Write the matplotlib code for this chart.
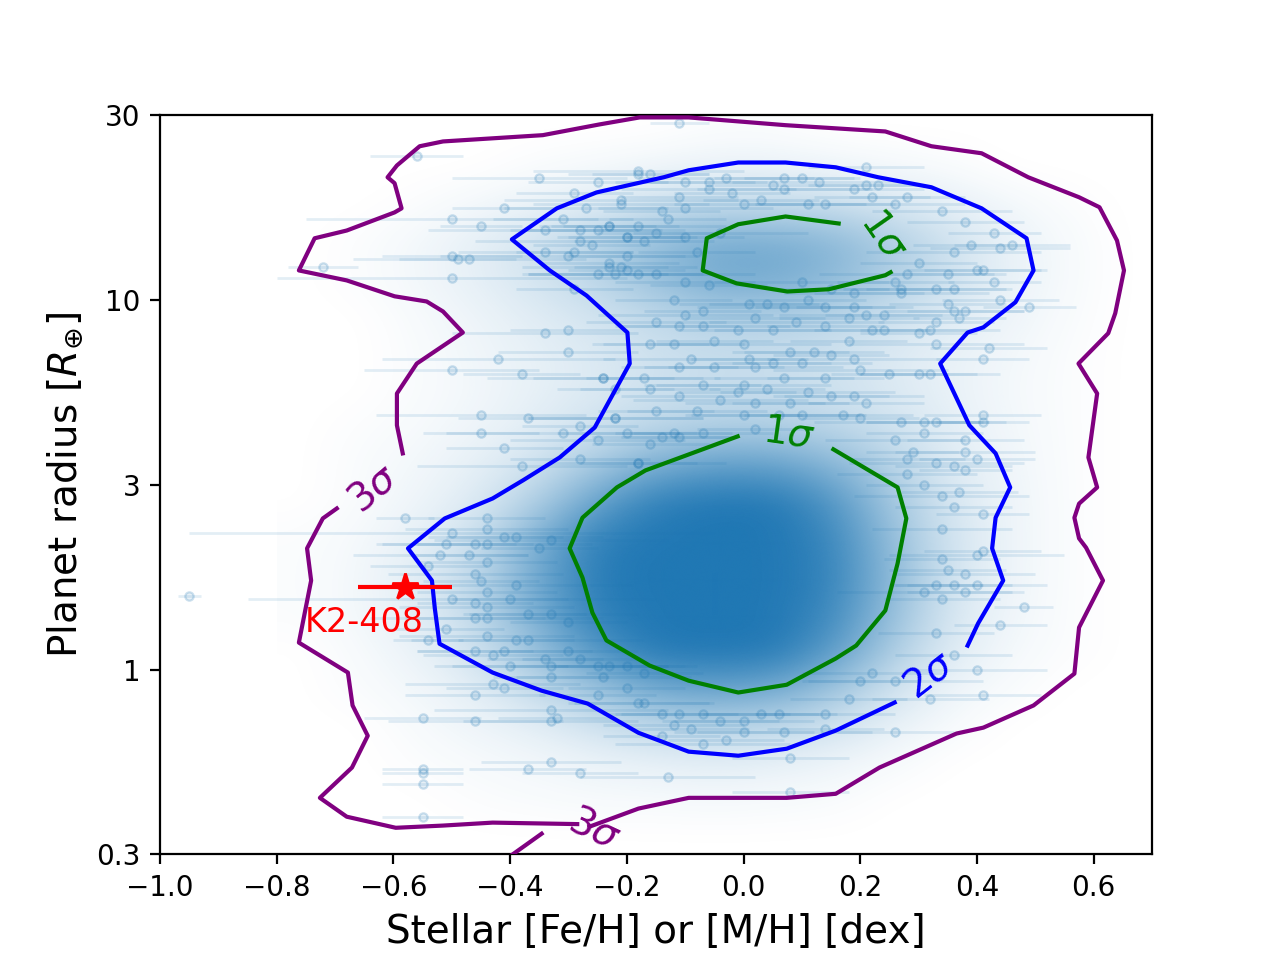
import numpy as np
import matplotlib
matplotlib.use("Agg")
import matplotlib.pyplot as plt
from matplotlib.colors import to_rgb

# ---------------- data (x = [Fe/H], y = log10 planet radius) ----------------
# sparse catalogue points (x, log10 R, xerr) by region of the plot
pts_upper_left = [
    (-0.56,1.39,0.08),(-0.35,1.33,0.15),(-0.25,1.32,0.12),(-0.18,1.35,0.18),(-0.29,1.29,0.10),
    (-0.21,1.27,0.20),(-0.41,1.25,0.09),(-0.27,1.25,0.14),(-0.50,1.22,0.25),(-0.45,1.20,0.07),
    (-0.31,1.22,0.12),(-0.34,1.19,0.20),(-0.28,1.19,0.10),(-0.25,1.19,0.15),(-0.23,1.20,0.08),
    (-0.20,1.17,0.12),(-0.28,1.16,0.18),(-0.26,1.15,0.10),(-0.34,1.13,0.15),(-0.29,1.13,0.10),
    (-0.30,1.12,0.22),(-0.20,1.12,0.10),(-0.50,1.12,0.12),(-0.49,1.11,0.10),(-0.47,1.11,0.20),
    (-0.72,1.09,0.06),(-0.50,1.06,0.30),(-0.25,1.07,0.12),(-0.23,1.09,0.15),(-0.21,1.09,0.08),
    (-0.18,1.07,0.20),(-0.29,1.03,0.10),(-0.34,0.91,0.16),(-0.30,0.92,0.10),(-0.30,0.86,0.12),
    (-0.42,0.84,0.20),(-0.50,0.81,0.15),(-0.38,0.80,0.10),(-0.24,0.79,0.20),(-0.22,0.76,0.10),
    (-0.45,0.69,0.18),(-0.37,0.68,0.12),(-0.22,0.68,0.15),(-0.28,0.66,0.10),(-0.45,0.64,0.10),
    (-0.31,0.64,0.20),(-0.20,0.64,0.12),(-0.25,0.62,0.15),(-0.41,0.60,0.10),(-0.28,0.57,0.12),
    (-0.38,0.55,0.18),(-0.18,0.56,0.10),
]
pts_lower_left = [
    (-0.58,0.41,0.05),(-0.44,0.41,0.10),(-0.44,0.38,0.14),(-0.50,0.37,0.45),(-0.51,0.34,0.12),
    (-0.46,0.34,0.10),(-0.44,0.34,0.18),(-0.52,0.31,0.15),(-0.47,0.31,0.10),(-0.44,0.29,0.12),
    (-0.41,0.36,0.10),(-0.39,0.36,0.15),(-0.35,0.33,0.10),(-0.33,0.35,0.20),(-0.54,0.28,0.10),
    (-0.46,0.26,0.15),(-0.45,0.24,0.10),(-0.39,0.23,0.20),(-0.44,0.21,0.12),(-0.46,0.18,0.10),
    (-0.44,0.17,0.15),(-0.50,0.19,0.35),(-0.40,0.19,0.10),(-0.46,0.14,0.12),(-0.44,0.14,0.20),
    (-0.37,0.15,0.10),(-0.33,0.15,0.15),(-0.30,0.13,0.10),(-0.51,0.11,0.10),(-0.54,0.08,0.06),
    (-0.44,0.09,0.15),(-0.39,0.08,0.10),(-0.37,0.08,0.20),(-0.46,0.05,0.10),(-0.43,0.04,0.12),
    (-0.41,0.05,0.15),(-0.34,0.03,0.10),(-0.30,0.05,0.12),(-0.40,0.01,0.10),(-0.33,0.01,0.20),
    (-0.28,0.03,0.10),(-0.25,0.01,0.15),(-0.23,0.01,0.10),(-0.20,0.01,0.12),(-0.43,-0.04,0.15),
    (-0.41,-0.05,0.10),(-0.46,-0.07,0.12),(-0.33,-0.02,0.10),(-0.24,-0.02,0.15),(-0.25,-0.07,0.10),
    (-0.33,-0.11,0.20),(-0.32,-0.13,0.10),(-0.33,-0.14,0.15),(-0.55,-0.13,0.10),(-0.46,-0.14,0.15),
    (-0.33,-0.25,0.12),(-0.37,-0.27,0.10),(-0.28,-0.28,0.10),(-0.55,-0.27,0.07),(-0.55,-0.28,0.07),
    (-0.55,-0.31,0.07),(-0.55,-0.40,0.07),(-0.95,0.20,0.02),(-0.20,-0.05,0.10),(-0.18,-0.09,0.12),
    (-0.17,-0.01,0.10),
]
pts_lower_right = [
    (-0.16,0.61,0.10),(-0.14,0.63,0.12),(-0.11,0.63,0.10),(-0.18,0.56,0.15),(0.31,0.64,0.10),
    (0.26,0.62,0.12),(0.28,0.57,0.10),(0.29,0.59,0.08),(0.38,0.62,0.10),(0.38,0.59,0.12),
    (0.40,0.57,0.10),(0.33,0.56,0.15),(0.36,0.55,0.10),(0.38,0.54,0.08),(0.28,0.53,0.12),
    (0.31,0.50,0.10),(0.37,0.48,0.10),(0.34,0.47,0.15),(0.36,0.44,0.10),(0.41,0.42,0.08),
    (0.34,0.38,0.12),(0.41,0.32,0.10),(0.40,0.31,0.15),(0.34,0.30,0.10),(0.38,0.26,0.12),
    (0.35,0.27,0.10),(0.33,0.23,0.08),(0.36,0.23,0.10),(0.40,0.23,0.12),(0.38,0.21,0.10),
    (0.31,0.21,0.15),(0.34,0.19,0.10),(0.48,0.17,0.05),(0.44,0.12,0.08),(0.33,0.10,0.10),
    (0.36,0.04,0.10),(0.40,0.00,0.12),(0.32,-0.08,0.10),(0.41,-0.07,0.10),(0.26,-0.17,0.10),
    (0.22,-0.01,0.12),(0.20,-0.03,0.10),(0.26,-0.03,0.15),(0.18,-0.08,0.10),(0.14,-0.12,0.12),
    (0.14,-0.16,0.10),(0.07,-0.17,0.15),(0.08,-0.24,0.10),(0.06,-0.12,0.10),(0.00,-0.17,0.12),
    (-0.03,-0.19,0.10),(-0.07,-0.20,0.15),(-0.09,-0.16,0.10),(-0.12,-0.15,0.12),(-0.14,-0.12,0.10),
    (-0.14,-0.18,0.10),(-0.13,-0.29,0.15),(0.08,-0.33,0.10),(-0.04,-0.14,0.10),(0.00,-0.14,0.12),
    (0.03,-0.12,0.10),(-0.17,-0.09,0.12),(-0.11,-0.12,0.10),(-0.07,-0.12,0.15),
]
pts_upper_right = [
    (-0.11,1.48,0.05),(-0.18,1.34,0.12),(-0.16,1.34,0.10),(-0.21,1.26,0.15),(-0.11,1.28,0.10),
    (-0.10,1.32,0.12),(-0.06,1.32,0.10),(-0.03,1.33,0.15),(0.05,1.31,0.10),(0.07,1.33,0.12),
    (0.10,1.33,0.10),(0.13,1.32,0.15),(0.21,1.36,0.10),(0.19,1.30,0.12),(0.21,1.31,0.10),
    (0.23,1.31,0.08),(0.28,1.28,0.10),(0.26,1.26,0.12),(0.22,1.28,0.10),(-0.06,1.30,0.15),
    (-0.02,1.29,0.10),(0.00,1.26,0.12),(0.03,1.27,0.10),(0.07,1.30,0.15),(0.11,1.26,0.10),
    (0.14,1.26,0.12),(-0.14,1.24,0.10),(-0.10,1.25,0.15),(-0.13,1.22,0.10),(-0.23,1.20,0.12),
    (-0.20,1.17,0.10),(-0.18,1.20,0.15),(-0.15,1.18,0.10),(-0.17,1.16,0.12),(-0.10,1.17,0.10),
    (-0.04,1.18,0.15),(-0.08,1.13,0.10),(-0.23,1.10,0.12),(-0.20,1.08,0.10),(-0.22,1.07,0.15),
    (-0.15,1.07,0.10),(-0.10,1.05,0.12),(-0.06,1.04,0.10),(0.10,1.05,0.15),(0.15,1.03,0.10),
    (0.19,1.02,0.12),(0.26,1.05,0.10),(0.28,1.07,0.15),(0.30,1.10,0.10),(0.34,1.24,0.12),
    (0.38,1.21,0.10),(0.43,1.18,0.08),(0.46,1.15,0.10),(0.44,1.14,0.12),(0.39,1.15,0.10),
    (0.36,1.13,0.15),(0.35,1.07,0.10),(0.40,1.08,0.12),(0.41,1.08,0.10),(0.43,1.05,0.08),
    (0.36,1.03,0.10),(0.33,1.03,0.12),(0.27,1.03,0.10),(0.27,1.02,0.15),(0.44,1.00,0.10),
    (0.49,0.98,0.08),(0.35,0.99,0.10),(0.36,0.97,0.12),(0.38,0.97,0.10),(0.37,0.95,0.08),
    (0.33,0.94,0.10),(0.32,0.92,0.12),(0.30,0.91,0.10),(0.33,0.88,0.15),(0.42,0.87,0.10),
    (0.41,0.84,0.08),(0.30,0.80,0.10),(0.32,0.80,0.12),(-0.12,1.00,0.10),(-0.10,0.96,0.15),
    (-0.07,0.97,0.10),(0.01,0.99,0.12),(0.04,0.99,0.10),(0.07,0.98,0.15),(0.11,1.00,0.10),
    (0.14,0.98,0.12),(0.19,0.98,0.10),(0.21,0.96,0.15),(0.24,0.96,0.10),(-0.15,0.94,0.12),
    (-0.11,0.93,0.10),(-0.07,0.93,0.15),(-0.01,0.92,0.10),(0.02,0.95,0.12),(0.05,0.92,0.10),
    (0.09,0.94,0.15),(0.14,0.93,0.10),(0.18,0.95,0.12),(0.22,0.92,0.10),(0.24,0.92,0.15),
    (-0.16,0.88,0.10),(-0.12,0.88,0.12),(-0.05,0.89,0.10),(0.00,0.88,0.15),(0.08,0.86,0.10),
    (0.12,0.86,0.12),(0.18,0.89,0.10),(-0.09,0.84,0.15),(-0.11,0.82,0.10),(-0.05,0.82,0.12),
    (0.01,0.84,0.10),(0.02,0.82,0.15),(0.05,0.83,0.10),(0.10,0.83,0.12),(0.15,0.85,0.10),
    (0.19,0.84,0.15),(-0.17,0.79,0.10),(-0.24,0.79,0.12),(-0.07,0.77,0.10),(0.00,0.77,0.15),
    (0.04,0.76,0.10),(0.07,0.79,0.12),(0.14,0.79,0.10),(0.20,0.81,0.15),(0.25,0.80,0.10),
    (-0.16,0.76,0.12),(-0.11,0.74,0.10),(-0.04,0.73,0.15),(-0.01,0.75,0.10),(0.02,0.72,0.12),
    (0.08,0.72,0.10),(0.11,0.75,0.15),(0.15,0.74,0.10),(0.19,0.74,0.12),(0.21,0.72,0.10),
    (-0.22,0.68,0.15),(-0.15,0.70,0.10),(-0.08,0.70,0.12),(0.00,0.69,0.10),(0.06,0.69,0.15),
    (0.10,0.69,0.10),(0.17,0.69,0.12),(0.20,0.68,0.10),(0.27,0.67,0.15),(0.31,0.67,0.10),
    (0.33,0.67,0.12),(0.41,0.69,0.10),(0.41,0.67,0.08),(-0.12,0.64,0.10),(-0.07,0.64,0.12),
    (0.02,0.65,0.10),
]

# background density of the catalogue (opacity of the crowded cloud)
dens_x_edges = (-0.8, 0.7)
dens_y_edges = (-0.5, 1.5)
density = [
    [0,0,0,0,0,0,0,.02,.02,0,0,0,0,0,0],
    [0,0,0,0,.03,.05,.08,.10,.10,.08,.05,.03,0,0,0],
    [0,0,.02,.06,.10,.15,.22,.26,.26,.24,.18,.12,.06,.02,0],
    [0,.02,.06,.12,.22,.34,.50,.62,.62,.55,.38,.22,.10,.04,0],
    [0,.02,.06,.12,.20,.30,.46,.62,.62,.52,.36,.22,.10,.04,0],
    [0,0,.04,.08,.14,.20,.28,.34,.34,.30,.22,.14,.08,.03,0],
    [0,0,.03,.07,.11,.16,.22,.25,.25,.22,.16,.10,.06,.02,0],
    [0,0,.03,.06,.11,.16,.22,.25,.25,.22,.16,.10,.05,.02,0],
    [0,.02,.04,.08,.14,.22,.30,.35,.35,.30,.22,.12,.06,.02,0],
    [0,.03,.06,.12,.22,.40,.60,.70,.70,.55,.32,.15,.07,.02,0],
    [0,.03,.08,.16,.36,.70,.95,1,1,.80,.42,.18,.08,.02,0],
    [.02,.05,.12,.25,.60,.95,1,1,1,.90,.48,.20,.08,.02,0],
    [.02,.06,.14,.30,.65,.98,1,1,1,.92,.52,.20,.08,.02,0],
    [.02,.06,.14,.30,.62,.95,1,1,1,.88,.48,.18,.07,.02,0],
    [0,.04,.10,.22,.48,.80,1,1,1,.75,.38,.15,.05,.02,0],
    [0,.03,.06,.14,.28,.45,.65,.70,.65,.45,.22,.08,.03,0,0],
    [0,0,.04,.08,.13,.22,.30,.32,.30,.22,.11,.04,0,0,0],
    [0,0,.02,.04,.06,.09,.11,.13,.11,.08,.04,0,0,0,0],
    [0,0,0,.02,.03,.04,.04,.05,.04,.03,0,0,0,0,0],
    [0,0,0,0,0,0,0,0,0,0,0,0,0,0,0],
]

# contour lines (x, log10 R)
c3_a_x = [-0.697,-0.721,-0.748,-0.741,-0.762,-0.678,-0.670,-0.644,-0.671,-0.726,-0.680,-0.596,-0.515,-0.430,-0.285]
c3_a_y = [0.436,0.409,0.328,0.241,0.073,-0.008,-0.097,-0.179,-0.265,-0.347,-0.398,-0.428,-0.422,-0.414,-0.418]
c3_b_x = [-0.401,-0.346]
c3_b_y = [-0.506,-0.444]
c3_c_x = [-0.264,-0.180,-0.094,0.074,0.158,0.233,0.365,0.411,0.497,0.567,0.575,0.616,0.587,0.575,0.567,
          0.575,0.606,0.591,0.606,0.574,0.625,0.637,0.652,0.640,0.610,0.575,0.488,0.408,0.322,0.243,
          0.072,-0.094,-0.178,-0.247,-0.344,-0.515,-0.555,-0.594,-0.610,-0.598,-0.586,-0.598,-0.680,
          -0.735,-0.762,-0.680,-0.598,-0.543,-0.515,-0.481,-0.560,-0.594,-0.594,-0.584]
c3_c_y = [-0.425,-0.376,-0.347,-0.347,-0.336,-0.265,-0.173,-0.157,-0.097,-0.011,0.114,0.241,0.330,0.355,0.411,
          0.449,0.493,0.574,0.747,0.828,0.910,0.964,1.080,1.161,1.251,1.278,1.332,1.397,1.416,1.456,
          1.473,1.494,1.494,1.475,1.446,1.429,1.416,1.364,1.332,1.316,1.248,1.237,1.188,
          1.167,1.080,1.053,1.010,0.996,0.969,0.912,0.828,0.747,0.661,0.585]
c2_x = [0.384,0.402,0.445,0.426,0.432,0.457,0.432,0.387,0.337,0.384,0.411,0.466,0.497,0.485,0.408,0.322,
        0.231,0.158,0.072,-0.009,-0.094,-0.137,-0.252,-0.320,-0.397,-0.332,-0.269,-0.199,-0.195,-0.255,
        -0.315,-0.378,-0.430,-0.512,-0.575,-0.534,-0.529,-0.521,-0.430,-0.346,-0.267,-0.180,-0.094,
        -0.009,0.074,0.158,0.259]
c2_y = [0.065,0.125,0.241,0.328,0.411,0.493,0.585,0.661,0.828,0.912,0.926,0.994,1.080,1.167,1.248,1.305,
        1.332,1.359,1.372,1.372,1.351,1.332,1.291,1.248,1.164,1.080,1.012,0.912,0.828,0.655,
        0.574,0.512,0.463,0.409,0.328,0.241,0.165,0.070,-0.008,-0.057,-0.092,-0.171,-0.222,
        -0.233,-0.214,-0.165,-0.089]
c1_top_x = [0.163,0.072,-0.009,-0.063,-0.070,-0.012,0.075,0.146,0.243,0.252]
c1_top_y = [1.207,1.226,1.205,1.167,1.080,1.045,1.023,1.029,1.067,1.075]
c1_low_x = [0.154,0.264,0.279,0.264,0.243,0.193,0.158,0.074,-0.009,-0.094,-0.161,-0.235,-0.259,-0.276,
            -0.298,-0.276,-0.217,-0.168,-0.010]
c1_low_y = [0.596,0.493,0.409,0.287,0.160,0.065,0.030,-0.041,-0.062,-0.030,0.011,0.079,0.154,0.249,
            0.328,0.411,0.493,0.539,0.631]

# contour labels: (x, log10 R, text, colour, rotation)
contour_labels = [
    (0.241, 1.178, r'$1\sigma$', 'green', -55),
    (0.077, 0.639, r'$1\sigma$', 'green', -8),
    (0.318, -0.016, r'$2\sigma$', 'blue', 38),
    (-0.635, 0.490, r'$3\sigma$', 'purple', 40),
    (-0.255, -0.430, r'$3\sigma$', 'purple', -25),
]

# K2-408
k2_feh, k2_feh_err, k2_logr = -0.58, 0.08, 0.223

ytick_pos = [-0.5, 0.0, 0.5, 1.0, 1.5]
ytick_lab = ['0.3', '1', '3', '10', '30']

# ---------------- plot ----------------
fig, ax = plt.subplots(figsize=(6.4, 4.8), dpi=200)
blue = '#1f77b4'

rgba = np.zeros((len(density), len(density[0]), 4))
rgba[..., :3] = to_rgb(blue)
rgba[..., 3] = np.array(density)
ax.imshow(rgba, extent=(dens_x_edges[0], dens_x_edges[1], dens_y_edges[0], dens_y_edges[1]),
          origin='upper', aspect='auto', interpolation='bicubic', zorder=0)

allpts = np.array(pts_upper_left + pts_lower_left + pts_lower_right + pts_upper_right)
ax.errorbar(allpts[:, 0], allpts[:, 1], xerr=allpts[:, 2], fmt='none',
            ecolor=blue, alpha=0.12, elinewidth=1.0, zorder=1)
ax.plot(allpts[:, 0], allpts[:, 1], 'o', ms=3.0, mew=0.8, ls='none',
        mfc=(*to_rgb(blue), 0.10), mec=(*to_rgb(blue), 0.22), zorder=1)

lw = 1.5
ax.plot(c3_a_x, c3_a_y, color='purple', lw=lw, zorder=3)
ax.plot(c3_b_x, c3_b_y, color='purple', lw=lw, zorder=3)
ax.plot(c3_c_x, c3_c_y, color='purple', lw=lw, zorder=3)
ax.plot(c2_x, c2_y, color='blue', lw=lw, zorder=3)
ax.plot(c1_top_x, c1_top_y, color='green', lw=lw, zorder=3)
ax.plot(c1_low_x, c1_low_y, color='green', lw=lw, zorder=3)
for x, y, t, c, r in contour_labels:
    ax.text(x, y, t, color=c, fontsize=14, rotation=r, ha='center', va='center',
            rotation_mode='anchor', zorder=4)

ax.errorbar([k2_feh], [k2_logr], xerr=[k2_feh_err], fmt='*', color='red', ms=10,
            elinewidth=1.5, zorder=5)
ax.text(-0.752, 0.128, 'K2-408', color='red', fontsize=12, ha='left', va='center', zorder=5)

ax.set_xlim(-1.0, 0.7)
ax.set_ylim(-0.5, 1.5)
ax.set_yticks(ytick_pos)
ax.set_yticklabels(ytick_lab)
ax.set_xlabel('Stellar [Fe/H] or [M/H] [dex]', fontsize=14)
ax.set_ylabel(r'Planet radius [$R_{\oplus}$]', fontsize=14)

fig.savefig('out.png', dpi=200)
